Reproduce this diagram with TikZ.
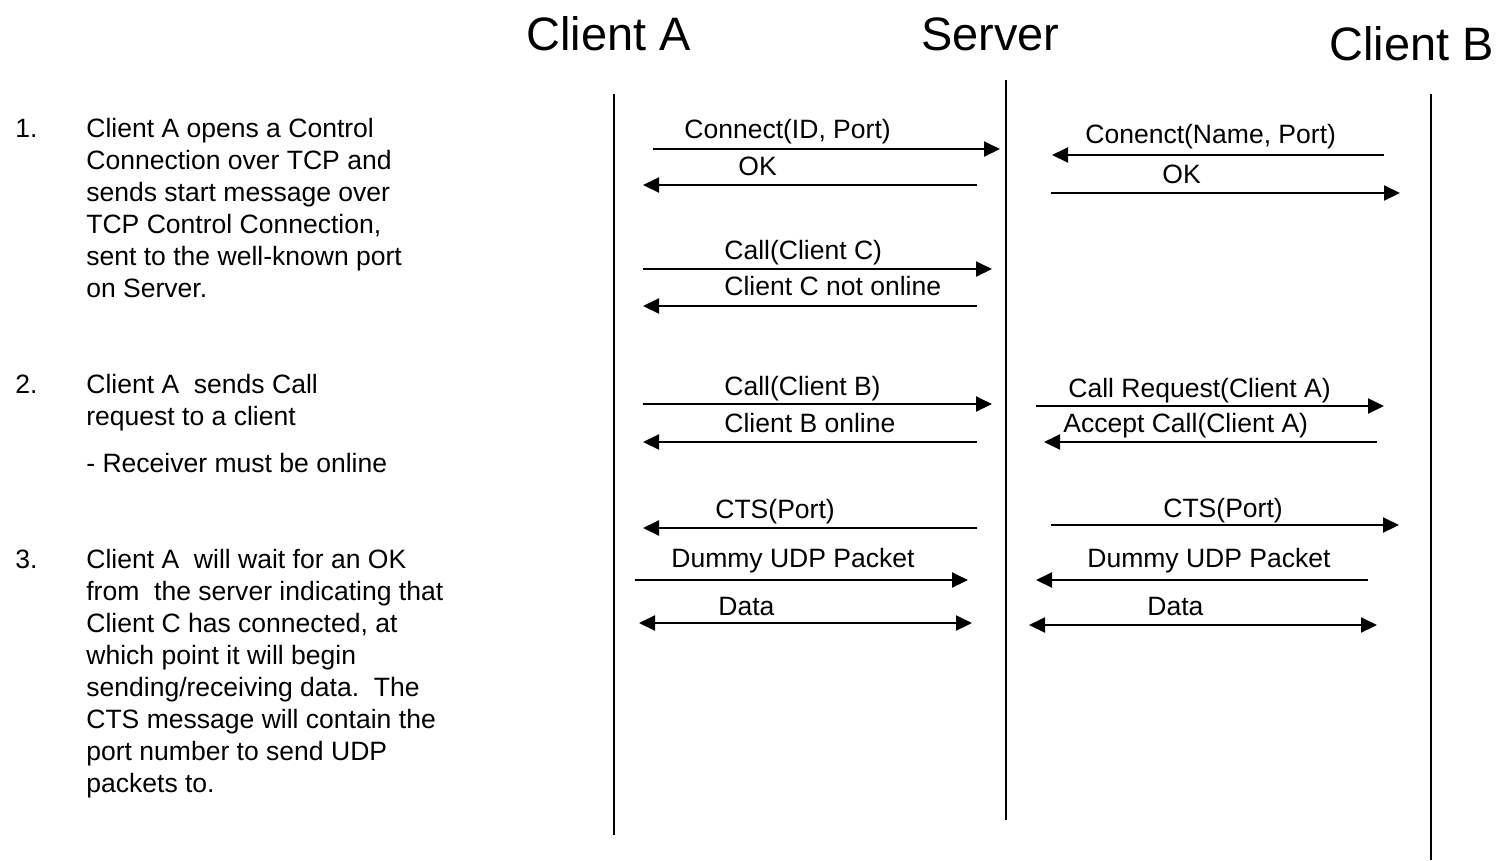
\documentclass[tikz,border=0pt]{standalone}
\usepackage{fontspec}
\setmainfont{Liberation Sans}
\usetikzlibrary{arrows.meta}
\begin{document}
\begin{tikzpicture}[x=0.02cm,y=-0.02cm,
  lifeline/.style={line width=0.04cm},
  msg/.style={line width=0.04cm,-{Triangle[length=0.32cm,width=0.3cm]}},
  both/.style={line width=0.04cm,{Triangle[length=0.32cm,width=0.3cm]}-{Triangle[length=0.32cm,width=0.3cm]}},
  lbl/.style={anchor=base west,inner sep=0pt,font=\fontsize{15.1}{18}\selectfont},
  txt/.style={anchor=base west,inner sep=0pt,font=\fontsize{15.1}{18}\selectfont},
  title/.style={anchor=base west,inner sep=0pt,font=\fontsize{26.7}{30}\selectfont}]
\useasboundingbox (0,0) rectangle (1497,860);

% participants
\node[title] (tA) at (526,50) {Client A};
\node[title] (tS) at (921,50) {Server};
\node[title] (tB) at (1329,60) {Client B};

% lifelines
\coordinate (A0) at (614,94);  \coordinate (A1) at (614,835);
\coordinate (S0) at (1006,80); \coordinate (S1) at (1006,820);
\coordinate (B0) at (1431,94); \coordinate (B1) at (1431,860);
\draw[lifeline] (A0) -- (A1);
\draw[lifeline] (S0) -- (S1);
\draw[lifeline] (B0) -- (B1);

% ---- Client A <-> Server ----
\coordinate (m1a) at (653,149); \coordinate (m1b) at (1000,149);
\draw[msg] (m1a) -- (m1b);
\node[lbl] (l1) at (684,138) {Connect(ID, Port)};

\coordinate (m2a) at (977,185); \coordinate (m2b) at (643,185);
\draw[msg] (m2a) -- (m2b);
\node[lbl] (l2) at (738,175) {OK};

\coordinate (m3a) at (643,269); \coordinate (m3b) at (992,269);
\draw[msg] (m3a) -- (m3b);
\node[lbl] (l3) at (724,259) {Call(Client C)};

\coordinate (m4a) at (977,306); \coordinate (m4b) at (643,306);
\draw[msg] (m4a) -- (m4b);
\node[lbl] (l4) at (724,295) {Client C not online};

\coordinate (m5a) at (643,404); \coordinate (m5b) at (992,404);
\draw[msg] (m5a) -- (m5b);
\node[lbl] (l5) at (724,395) {Call(Client B)};

\coordinate (m6a) at (977,442); \coordinate (m6b) at (643,442);
\draw[msg] (m6a) -- (m6b);
\node[lbl] (l6) at (724,432) {Client B online};

\coordinate (m7a) at (977,528); \coordinate (m7b) at (643,528);
\draw[msg] (m7a) -- (m7b);
\node[lbl] (l7) at (715,518) {CTS(Port)};

\coordinate (m8a) at (635,580); \coordinate (m8b) at (968,580);
\draw[msg] (m8a) -- (m8b);
\node[lbl] (l8) at (671,567) {Dummy UDP Packet};

\coordinate (m9a) at (639,623); \coordinate (m9b) at (972,623);
\draw[both] (m9a) -- (m9b);
\node[lbl] (l9) at (718,615) {Data};

% ---- Server <-> Client B ----
\coordinate (n1a) at (1384,155); \coordinate (n1b) at (1052,155);
\draw[msg] (n1a) -- (n1b);
\node[lbl] (k1) at (1085,143) {Conenct(Name, Port)};

\coordinate (n2a) at (1051,193); \coordinate (n2b) at (1400,193);
\draw[msg] (n2a) -- (n2b);
\node[lbl] (k2) at (1162,183) {OK};

\coordinate (n3a) at (1036,406); \coordinate (n3b) at (1384,406);
\draw[msg] (n3a) -- (n3b);
\node[lbl] (k3) at (1068,397) {Call Request(Client A)};

\coordinate (n4a) at (1377,442); \coordinate (n4b) at (1044,442);
\draw[msg] (n4a) -- (n4b);
\node[lbl] (k4) at (1063,432) {Accept Call(Client A)};

\coordinate (n5a) at (1051,525); \coordinate (n5b) at (1399,525);
\draw[msg] (n5a) -- (n5b);
\node[lbl] (k5) at (1163,517) {CTS(Port)};

\coordinate (n6a) at (1368,580); \coordinate (n6b) at (1036,580);
\draw[msg] (n6a) -- (n6b);
\node[lbl] (k6) at (1087,567) {Dummy UDP Packet};

\coordinate (n7a) at (1029,625); \coordinate (n7b) at (1377,625);
\draw[both] (n7a) -- (n7b);
\node[lbl] (k7) at (1147,615) {Data};

% ---- description list ----
\node[txt] (n1) at (15,137) {1.};
\node[txt] (p1a) at (86,137) {Client A opens a Control};
\node[txt] (p1b) at (86,169) {Connection over TCP and};
\node[txt] (p1c) at (86,201) {sends start message over};
\node[txt] (p1d) at (86,233) {TCP Control Connection,};
\node[txt] (p1e) at (86,265) {sent to the well-known port};
\node[txt] (p1f) at (86,297) {on Server.};

\node[txt] (n2) at (15,393) {2.};
\node[txt] (p2a) at (86,393) {Client A\ \ sends Call};
\node[txt] (p2b) at (86,425) {request to a client};
\node[txt] (p2c) at (86,472) {- Receiver must be online};

\node[txt] (n3) at (15,568) {3.};
\node[txt] (p3a) at (86,568) {Client A\ \ will wait for an OK};
\node[txt] (p3b) at (86,600) {from\ \ the server indicating that};
\node[txt] (p3c) at (86,632) {Client C has connected, at};
\node[txt] (p3d) at (86,664) {which point it will begin};
\node[txt] (p3e) at (86,696) {sending/receiving data.\ \ The};
\node[txt] (p3f) at (86,728) {CTS message will contain the};
\node[txt] (p3g) at (86,760) {port number to send UDP};
\node[txt] (p3h) at (86,792) {packets to.};
\end{tikzpicture}
\end{document}
